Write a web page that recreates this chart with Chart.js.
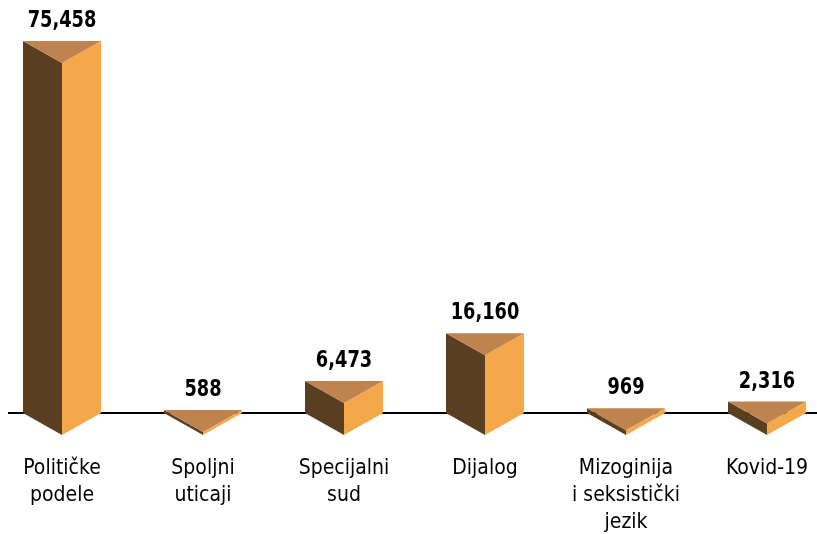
<!DOCTYPE html>
<html>
<head>
<meta charset="utf-8">
<script src="https://cdn.jsdelivr.net/npm/chart.js@4.4.1/dist/chart.umd.min.js"></script>
<style>
  body { margin: 0; background: #fff; }
  #wrap { width: 817px; height: 534px; }
</style>
</head>
<body>
<div id="wrap"><canvas id="prismChart" width="817" height="534"></canvas></div>
<script>
// categories + values
var categories = [
    ['Političke', 'podele'],
    ['Spoljni', 'uticaji'],
    ['Specijalni', 'sud'],
    ['Dijalog'],
    ['Mizoginija', 'i seksistički', 'jezik'],
    ['Kovid-19']
];
var counts = [75458, 588, 6473, 16160, 969, 2316];

var topColor = '#BF8350';
var leftColor = '#5A3E20';
var rightColor = '#F5A84A';
var depth = 22;

// draws each bar as a triangular prism
var prismPlugin = {
    id: 'prism',
    beforeDatasetsDraw: function(chart) {
        var ctx = chart.ctx;
        var base = chart.scales.y.getPixelForValue(0);
        ctx.save();
        ctx.strokeStyle = '#000';
        ctx.lineWidth = 2;
        ctx.beginPath();
        ctx.moveTo(8, base);
        ctx.lineTo(chart.width, base);
        ctx.stroke();
        ctx.restore();
    },
    afterDatasetsDraw: function(chart) {
        var ctx = chart.ctx;
        var meta = chart.getDatasetMeta(0);
        ctx.save();
        meta.data.forEach(function(bar, i) {
            var cx = bar.x;
            var w = bar.width / 2;
            var top = bar.y;
            var base = bar.base;

            // left face
            ctx.fillStyle = leftColor;
            ctx.beginPath();
            ctx.moveTo(cx - w, top);
            ctx.lineTo(cx, top + depth);
            ctx.lineTo(cx, base + depth);
            ctx.lineTo(cx - w, base);
            ctx.closePath();
            ctx.fill();

            // right face
            ctx.fillStyle = rightColor;
            ctx.beginPath();
            ctx.moveTo(cx, top + depth);
            ctx.lineTo(cx + w, top);
            ctx.lineTo(cx + w, base);
            ctx.lineTo(cx, base + depth);
            ctx.closePath();
            ctx.fill();

            // top
            ctx.fillStyle = topColor;
            ctx.beginPath();
            ctx.moveTo(cx - w, top);
            ctx.lineTo(cx + w, top);
            ctx.lineTo(cx, top + depth);
            ctx.closePath();
            ctx.fill();

            // value label (squeezed a bit, the original font is condensed)
            ctx.save();
            ctx.fillStyle = '#000';
            ctx.font = 'bold 23px "DejaVu Sans Condensed", "DejaVu Sans"';
            ctx.textAlign = 'center';
            ctx.textBaseline = 'alphabetic';
            ctx.translate(cx, top - 14);
            ctx.scale(0.86, 1);
            ctx.fillText(counts[i].toLocaleString('en-US'), 0, 0);
            ctx.restore();
        });
        ctx.restore();
    }
};

var chartCanvas = document.getElementById('prismChart');

var prismChart = new Chart(chartCanvas, {
    type: 'bar',
    data: {
        labels: categories,
        datasets: [{
            data: counts,
            backgroundColor: 'transparent',
            borderWidth: 0,
            barThickness: 78
        }]
    },
    options: {
        responsive: false,
        animation: false,
        layout: {
            padding: { top: 41, left: 62, right: 50, bottom: 0 }
        },
        plugins: {
            legend: { display: false },
            tooltip: { enabled: false }
        },
        scales: {
            x: {
                offset: false,
                grid: { display: false },
                border: { display: false },
                afterFit: function(scale) {
                    scale.height = 121;
                    scale.paddingLeft = 0;
                    scale.paddingRight = 0;
                },
                ticks: {
                    padding: 34,
                    maxRotation: 0,
                    autoSkip: false,
                    color: '#000',
                    font: { family: '"DejaVu Sans Condensed", "DejaVu Sans"', size: 21, lineHeight: 1.29 }
                }
            },
            y: {
                display: false,
                min: 0,
                max: Math.max.apply(null, counts)
            }
        }
    },
    plugins: [prismPlugin]
});
</script>
</body>
</html>
